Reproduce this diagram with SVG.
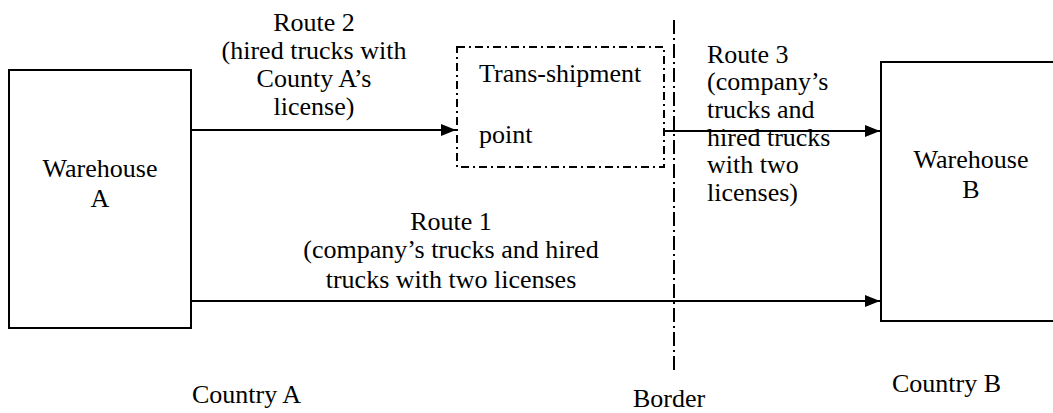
<svg xmlns="http://www.w3.org/2000/svg" width="1053" height="413" viewBox="0 0 1053 413">
<style>
text{font-size:26px;fill:#000}
.c{text-anchor:middle}
.box{fill:#fff;stroke:#000;stroke-width:2}
.dd{fill:none;stroke:#000;stroke-width:2;stroke-dasharray:8 4 2 4}
.bd{fill:none;stroke:#000;stroke-width:2;stroke-dasharray:14 4 2 4}
.ar{fill:none;stroke:#000;stroke-width:2;marker-end:url(#ah)}
</style>
<defs>
<marker id="ah" viewBox="0 0 15 12" refX="15" refY="6" markerWidth="15" markerHeight="12" markerUnits="userSpaceOnUse" orient="auto">
<path d="M0,0 L15,6 L0,12 Z" fill="#000"/>
</marker>
</defs>
<rect width="1053" height="413" fill="#fff"/>
<g font-family="Liberation Serif, DejaVu Serif, serif">
<g id="border">
<line class="bd" x1="674" y1="20" x2="674" y2="370"/>
<text x="633" y="407">Border</text>
</g>
<g id="warehouse-a">
<rect class="box" x="9" y="70" width="182" height="258"/>
<text class="c" x="100" y="177">Warehouse</text>
<text class="c" x="100" y="207">A</text>
</g>
<g id="warehouse-b">
<rect class="box" x="881" y="62" width="180" height="259"/>
<text class="c" x="971" y="168">Warehouse</text>
<text class="c" x="971" y="198">B</text>
</g>
<g id="transshipment">
<rect class="dd" x="457" y="47" width="207" height="120"/>
<text x="479" y="82">Trans-shipment</text>
<text x="479" y="143">point</text>
</g>
<g id="connectors">
<line class="ar" x1="191" y1="130" x2="456" y2="130"/>
<line class="ar" x1="664" y1="131" x2="880" y2="131"/>
<line class="ar" x1="191" y1="301" x2="880" y2="301"/>
</g>
<g id="route-labels">
<text class="c" x="314" y="31">Route 2</text>
<text class="c" x="314" y="59">(hired trucks with</text>
<text class="c" x="314" y="87">County A’s</text>
<text class="c" x="314" y="115">license)</text>
<text x="707" y="63">Route 3</text>
<text x="707" y="90">(company’s</text>
<text x="707" y="118">trucks and</text>
<text x="707" y="146">hired trucks</text>
<text x="707" y="173">with two</text>
<text x="707" y="201">licenses)</text>
<text class="c" x="451" y="230">Route 1</text>
<text class="c" x="451" y="258">(company’s trucks and hired</text>
<text class="c" x="451" y="288">trucks with two licenses</text>
</g>
<g id="regions">
<text x="192" y="403">Country A</text>
<text x="892" y="392">Country B</text>
</g>
</g>
</svg>
